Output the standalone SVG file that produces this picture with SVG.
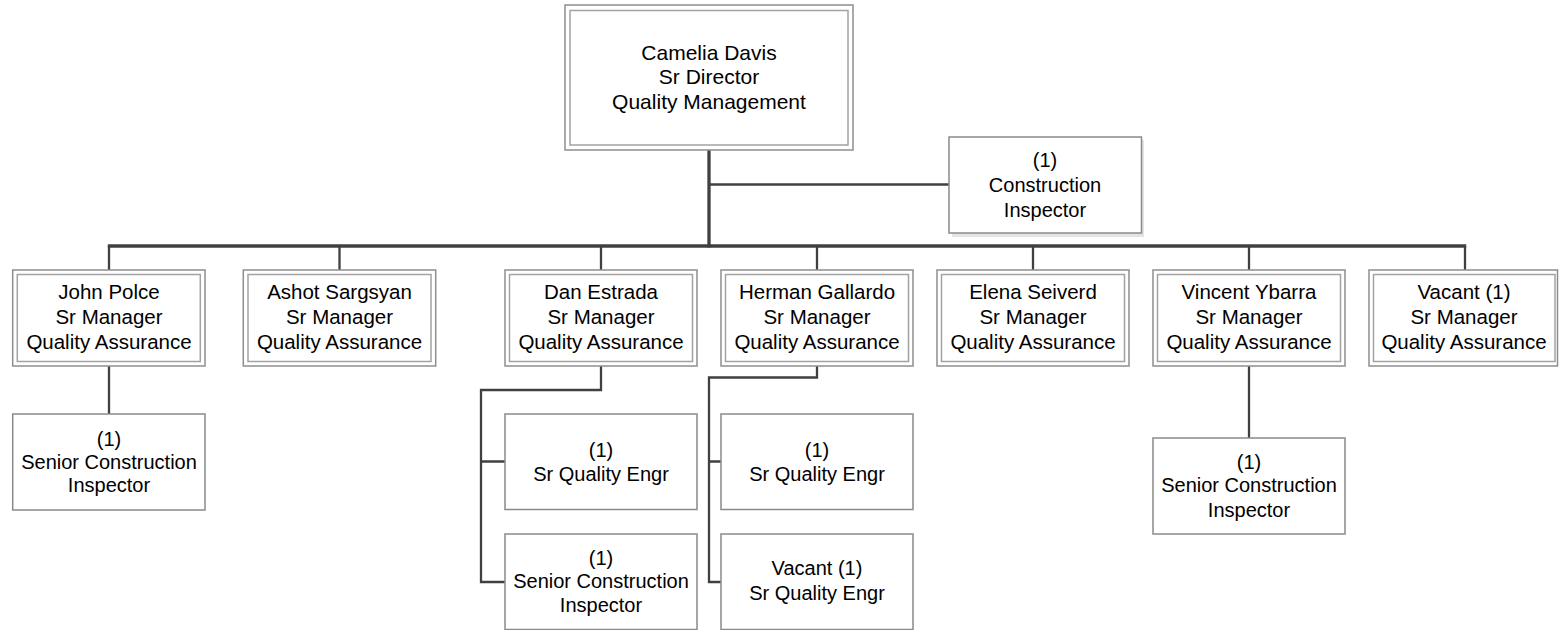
<svg xmlns="http://www.w3.org/2000/svg" width="1560" height="630" viewBox="0 0 1560 630">
<style>
.bg{fill:#ffffff}
.outer{fill:#ffffff;stroke:#8e8e8e;stroke-width:1.5}
.inner{fill:none;stroke:#a2a2a2;stroke-width:1.5}
.box{fill:#ffffff;stroke:#8a8a8a;stroke-width:1.5}
.shadow{fill:#e4e4e4}
.t{font-family:"Liberation Sans",Arial,sans-serif;fill:#000000;text-anchor:middle}
.tt{font-size:21px}
.tm{font-size:20.5px}
.tc{font-size:20px}
.ln{fill:none;stroke:#404040;stroke-linejoin:miter;stroke-linecap:butt}
.thick{stroke-width:3.3}
.med{stroke-width:2.5}
.thin{stroke-width:2.3}
</style>
<rect class="bg" x="0" y="0" width="1560" height="630"/>

<g id="connectors">
  <path class="ln thick" d="M709 150 V247.5"/>
  <path class="ln med" d="M709 184.5 H949"/>
  <path class="ln thick" d="M107.8 246 H1466.2"/>
  <path class="ln thin" d="M109 246 V270 M339.5 246 V270 M601 246 V270 M817 246 V270 M1033 246 V270 M1249 246 V270 M1465 246 V270"/>
  <path class="ln thin" d="M109 366 V414"/>
  <path class="ln thin" d="M601 366 V390 H481 V582 H505 M481 461.5 H505"/>
  <path class="ln thin" d="M817 366 V377.5 H709 V582 H721 M709 461.5 H721"/>
  <path class="ln thin" d="M1249 366 V438"/>
</g>

<g id="camelia-davis">
  <rect class="outer" x="565" y="5" width="288" height="145"/>
  <rect class="inner" x="570" y="10.5" width="278" height="134.5"/>
  <text class="t tt" x="709" y="59.5">Camelia Davis</text>
  <text class="t tt" x="709" y="84">Sr Director</text>
  <text class="t tt" x="709" y="108.5">Quality Management</text>
</g>

<g id="construction-inspector">
  <rect class="shadow" x="952" y="140" width="192" height="97"/>
  <rect class="box" x="949" y="137" width="192.5" height="96"/>
  <text class="t tc" x="1045" y="166.5">(1)</text>
  <text class="t tc" x="1045" y="191.5">Construction</text>
  <text class="t tc" x="1045" y="216.5">Inspector</text>
</g>

<g id="john-polce">
  <rect class="outer" x="12.7" y="270" width="192.3" height="96"/>
  <rect class="inner" x="17.3" y="274.5" width="183" height="87"/>
  <text class="t tm" x="109" y="299">John Polce</text>
  <text class="t tm" x="109" y="324">Sr Manager</text>
  <text class="t tm" x="109" y="349">Quality Assurance</text>
</g>

<g id="ashot-sargsyan">
  <rect class="outer" x="243.3" y="270" width="192.4" height="96"/>
  <rect class="inner" x="248" y="274.5" width="183" height="87"/>
  <text class="t tm" x="339.5" y="299">Ashot Sargsyan</text>
  <text class="t tm" x="339.5" y="324">Sr Manager</text>
  <text class="t tm" x="339.5" y="349">Quality Assurance</text>
</g>

<g id="dan-estrada">
  <rect class="outer" x="505" y="270" width="192" height="96"/>
  <rect class="inner" x="509.5" y="274.5" width="183" height="87"/>
  <text class="t tm" x="601" y="299">Dan Estrada</text>
  <text class="t tm" x="601" y="324">Sr Manager</text>
  <text class="t tm" x="601" y="349">Quality Assurance</text>
</g>

<g id="herman-gallardo">
  <rect class="outer" x="721" y="270" width="192" height="96"/>
  <rect class="inner" x="725.5" y="274.5" width="183" height="87"/>
  <text class="t tm" x="817" y="299">Herman Gallardo</text>
  <text class="t tm" x="817" y="324">Sr Manager</text>
  <text class="t tm" x="817" y="349">Quality Assurance</text>
</g>

<g id="elena-seiverd">
  <rect class="outer" x="937" y="270" width="192" height="96"/>
  <rect class="inner" x="941.5" y="274.5" width="183" height="87"/>
  <text class="t tm" x="1033" y="299">Elena Seiverd</text>
  <text class="t tm" x="1033" y="324">Sr Manager</text>
  <text class="t tm" x="1033" y="349">Quality Assurance</text>
</g>

<g id="vincent-ybarra">
  <rect class="outer" x="1153" y="270" width="192" height="96"/>
  <rect class="inner" x="1157.5" y="274.5" width="183" height="87"/>
  <text class="t tm" x="1249" y="299">Vincent Ybarra</text>
  <text class="t tm" x="1249" y="324">Sr Manager</text>
  <text class="t tm" x="1249" y="349">Quality Assurance</text>
</g>

<g id="vacant-sr-manager">
  <rect class="outer" x="1369" y="270" width="188.5" height="96"/>
  <rect class="inner" x="1373.5" y="274.5" width="181.5" height="87"/>
  <text class="t tm" x="1464" y="299">Vacant (1)</text>
  <text class="t tm" x="1464" y="324">Sr Manager</text>
  <text class="t tm" x="1464" y="349">Quality Assurance</text>
</g>

<g id="john-senior-construction-inspector">
  <rect class="box" x="12.7" y="414" width="192.3" height="96"/>
  <text class="t tc" x="109" y="446">(1)</text>
  <text class="t tc" x="109" y="468.5">Senior Construction</text>
  <text class="t tc" x="109" y="491.5">Inspector</text>
</g>

<g id="dan-sr-quality-engr">
  <rect class="box" x="505" y="414" width="192" height="95.5"/>
  <text class="t tc" x="601" y="456.5">(1)</text>
  <text class="t tc" x="601" y="480.5">Sr Quality Engr</text>
</g>

<g id="dan-senior-construction-inspector">
  <rect class="box" x="505" y="534" width="192" height="95.5"/>
  <text class="t tc" x="601" y="565">(1)</text>
  <text class="t tc" x="601" y="588">Senior Construction</text>
  <text class="t tc" x="601" y="611.5">Inspector</text>
</g>

<g id="herman-sr-quality-engr">
  <rect class="box" x="721" y="414" width="192" height="95.5"/>
  <text class="t tc" x="817" y="456.5">(1)</text>
  <text class="t tc" x="817" y="480.5">Sr Quality Engr</text>
</g>

<g id="herman-vacant-sr-quality-engr">
  <rect class="box" x="721" y="534" width="192" height="95.5"/>
  <text class="t tc" x="817" y="575">Vacant (1)</text>
  <text class="t tc" x="817" y="600">Sr Quality Engr</text>
</g>

<g id="vincent-senior-construction-inspector">
  <rect class="box" x="1153" y="438" width="192" height="96"/>
  <text class="t tc" x="1249" y="468.5">(1)</text>
  <text class="t tc" x="1249" y="491.5">Senior Construction</text>
  <text class="t tc" x="1249" y="516.5">Inspector</text>
</g>
</svg>
